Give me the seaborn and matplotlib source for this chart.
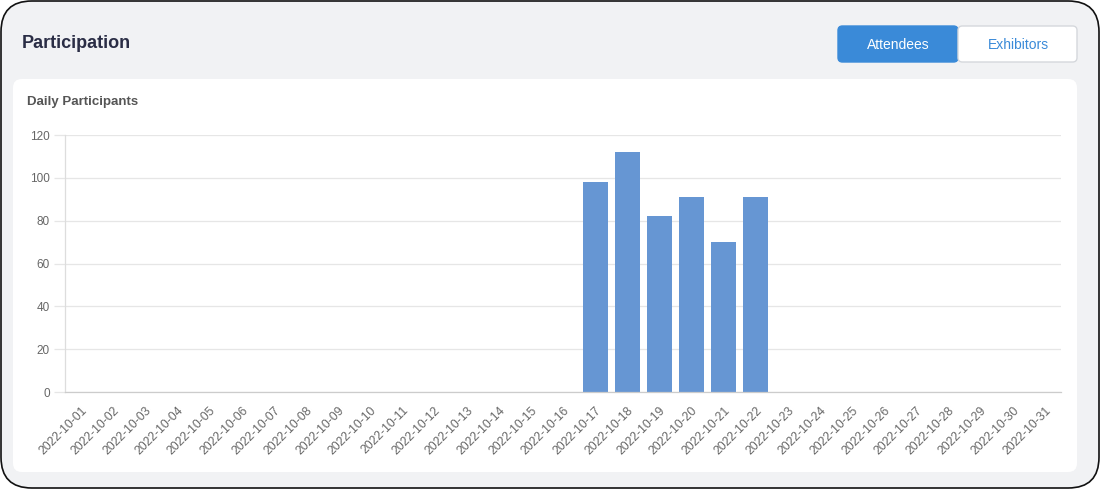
import matplotlib
matplotlib.use("Agg")
import matplotlib.pyplot as plt
from matplotlib.patches import FancyBboxPatch
import seaborn as sns
import pandas as pd

# ---- data ----
dates = [f"2022-10-{d:02d}" for d in range(1, 32)]
participants = [0, 0, 0, 0, 0, 0, 0, 0, 0, 0, 0, 0, 0, 0, 0, 0,
                98, 112, 82, 91, 70, 91,
                0, 0, 0, 0, 0, 0, 0, 0, 0]
y_ticks = [0, 20, 40, 60, 80, 100, 120]
title = "Participation"
subtitle = "Daily Participants"
buttons = ["Attendees", "Exhibitors"]

df = pd.DataFrame({"date": dates, "participants": participants})

sns.set_theme(style="white")
plt.rcParams["font.family"] = ["Liberation Sans", "DejaVu Sans"]

W, H = 1101, 490
fig = plt.figure(figsize=(W / 100, H / 100), dpi=100)
fig.patch.set_facecolor("white")

def px(x, y, w, h):
    return (x / W, 1 - (y + h) / H, w / W, h / H)

# outer rounded frame
bx, by, bw, bh = px(1, 1, 1098, 487)
fig.patches.append(FancyBboxPatch((bx, by), bw, bh,
                                  boxstyle="round,pad=0,rounding_size=0.028",
                                  transform=fig.transFigure, facecolor="#f1f2f4",
                                  edgecolor="#111111", linewidth=1.2,
                                  mutation_aspect=W / H, zorder=0))
# card
cx, cy, cw, ch = px(13, 79, 1064, 393)
fig.patches.append(FancyBboxPatch((cx, cy), cw, ch,
                                  boxstyle="round,pad=0,rounding_size=0.008",
                                  transform=fig.transFigure, facecolor="white",
                                  edgecolor="none", mutation_aspect=W / H, zorder=0.5))
# buttons
b1 = px(838, 26, 120, 36)
fig.patches.append(FancyBboxPatch((b1[0], b1[1]), b1[2], b1[3],
                                  boxstyle="round,pad=0,rounding_size=0.004",
                                  transform=fig.transFigure, facecolor="#3a8ad8",
                                  edgecolor="#3a8ad8", linewidth=1,
                                  mutation_aspect=W / H, zorder=0.5))
b2 = px(958, 26, 119, 36)
fig.patches.append(FancyBboxPatch((b2[0], b2[1]), b2[2], b2[3],
                                  boxstyle="round,pad=0,rounding_size=0.004",
                                  transform=fig.transFigure, facecolor="white",
                                  edgecolor="#d5d8dc", linewidth=1,
                                  mutation_aspect=W / H, zorder=0.5))
fig.text(898 / W, 1 - 45 / H, buttons[0], color="white", fontsize=10,
         ha="center", va="center")
fig.text(1018 / W, 1 - 45 / H, buttons[1], color="#3a8ad8", fontsize=10,
         ha="center", va="center")

fig.text(22 / W, 1 - 44 / H, title, color="#2a2d45", fontsize=13,
         fontweight="bold", ha="left", va="center")
fig.text(27 / W, 1 - 102 / H, subtitle, color="#555555", fontsize=9.5,
         fontweight="bold", ha="left", va="center")

# chart
ax = fig.add_axes(px(65, 135, 996, 257))
ax.set_zorder(5)
ax.set_facecolor("none")
sns.barplot(data=df, x="date", y="participants", color="#6696d3",
            saturation=1, width=0.78, linewidth=0, ax=ax)
ax.set_ylim(0, 120)
ax.set_xlim(-0.5, len(dates) - 0.5)
ax.set_yticks(y_ticks)
ax.set_yticklabels([str(v) for v in y_ticks], fontsize=8.5, color="#666666")
ax.set_xticks(range(len(dates)))
ax.set_xticklabels(dates, rotation=45, ha="right", rotation_mode="anchor",
                   fontsize=8.7, color="#666666")
ax.set_xlabel("")
ax.set_ylabel("")
ax.grid(axis="y", color="#e6e6e6", linewidth=0.9)
ax.set_axisbelow(True)
for s in ["top", "right"]:
    ax.spines[s].set_visible(False)
ax.spines["left"].set_color("#dddddd")
ax.spines["bottom"].set_color("#cccccc")
ax.spines["left"].set_linewidth(0.9)
ax.spines["bottom"].set_linewidth(0.9)
ax.tick_params(axis="y", length=8, width=0.9, color="#e6e6e6", pad=3, left=True)
ax.tick_params(axis="x", length=0, pad=9)

fig.savefig("out.png", dpi=100)
